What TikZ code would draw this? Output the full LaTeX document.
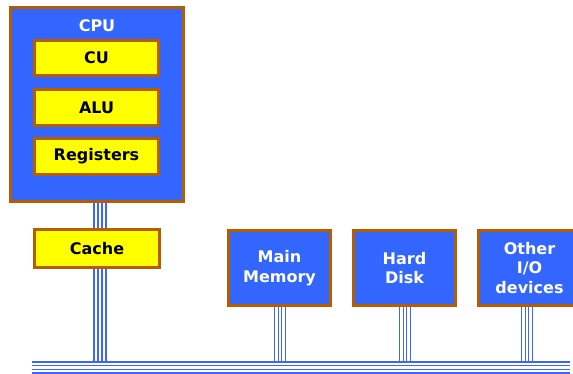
\documentclass[tikz,border=0pt]{standalone}
\usepackage{fontspec}
\setmainfont{DejaVu Sans}
\definecolor{boxblue}{RGB}{51,102,255}
\definecolor{boxyellow}{RGB}{255,255,0}
\definecolor{rim}{RGB}{184,92,0}
\definecolor{wire}{RGB}{60,100,255}
\begin{document}
\begin{tikzpicture}[x=1pt,y=-1pt,
  unit/.style={draw=rim,line width=2.6pt,inner sep=0pt,align=center,
    font=\bfseries\fontsize{16}{19.5}\selectfont},
  bluebox/.style={unit,fill=boxblue,text=white,minimum width=102pt,minimum height=75pt},
  yellowbox/.style={unit,fill=boxyellow,text=black,minimum width=124pt,minimum height=35.5pt},
  wire/.style={draw=wire,line width=1.2pt}]
\useasboundingbox (0,0) rectangle (573,374);
\begin{scope}
\clip (0,0) rectangle (573,374);
% processor block
\node[unit,fill=boxblue,minimum width=173pt,minimum height=194pt] (cpu) at (97,104.5) {};
\node[text=white,font=\bfseries\fontsize{16}{19.5}\selectfont] (cpulabel) at (97,26) {CPU};
\node[yellowbox] (cu) at (96.5,58) {CU};
\node[yellowbox] (alu) at (96.5,107.5) {ALU};
\node[yellowbox] (regs) at (96.5,156.5) {Registers};
\node[yellowbox,minimum width=125pt,minimum height=38pt] (cache) at (97,248.5) {Cache};
% peripherals
\node[bluebox] (mem) at (279.5,268) {Main\\Memory};
\node[bluebox] (disk) at (404.5,268) {Hard\\Disk};
\node[bluebox] (io) at (529.5,268) {Other\\I/O\\devices};
% system bus
\coordinate (busL) at (32,367.5);
\coordinate (busR) at (570,367.5);
\foreach \o in {-5.5,-1.8,1.8,5.5}{
  \draw[wire] ([yshift=\o]busL) -- ([yshift=\o]busR);
}
\foreach \o in {-3,1,5,9}{
  \draw[wire] ([xshift=\o]cpu.south) -- ([xshift=\o]cache.north);
  \draw[wire] ([xshift=\o]cache.south) -- ([xshift=\o,yshift=5.5]cache.south |- busL);
}
\foreach \n/\s in {mem/0.5,disk/0.5,io/-2.5}{
  \foreach \o in {-5.5,-1.8,1.8,5.5}{
    \draw[wire] ([xshift=\o+\s]\n.south) -- ([xshift=\o+\s,yshift=5.5]\n.south |- busL);
  }
}
\end{scope}
\end{tikzpicture}
\end{document}
